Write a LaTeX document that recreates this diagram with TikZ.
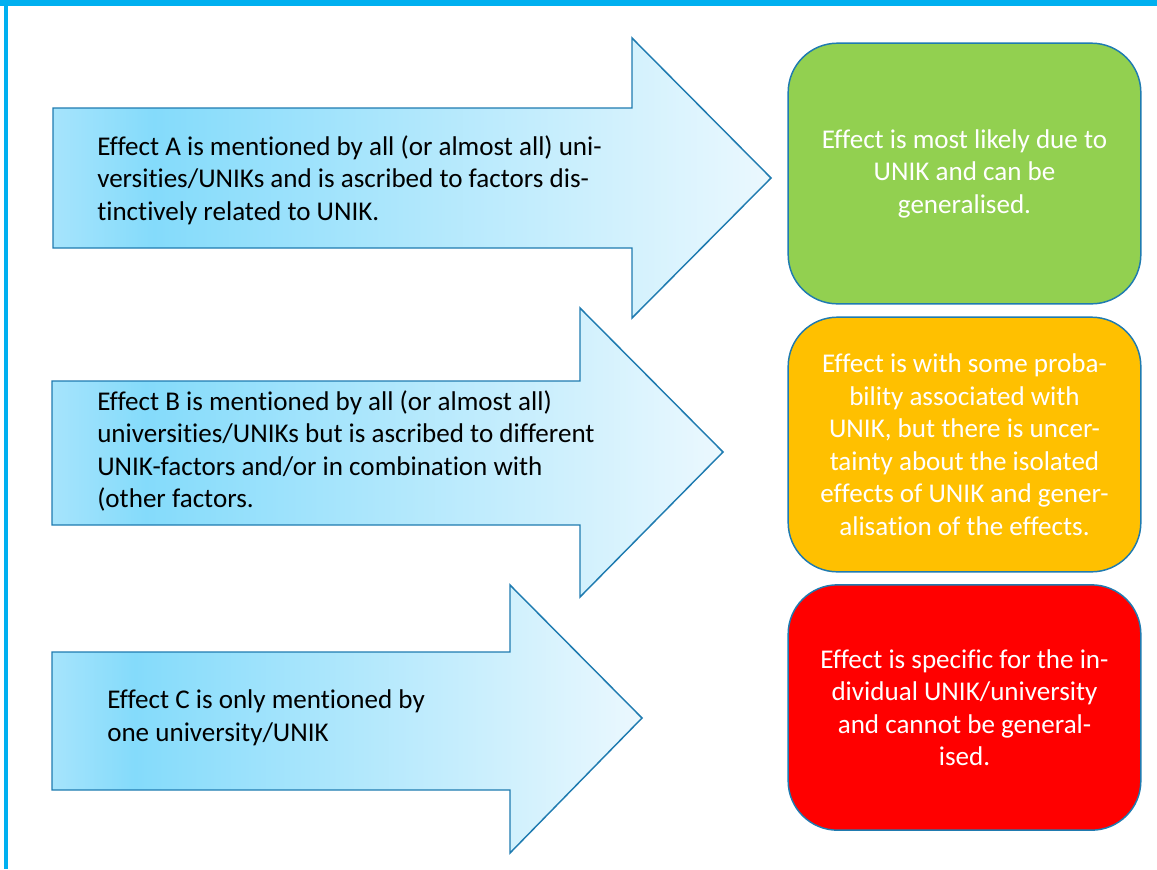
\documentclass[tikz,border=0pt]{standalone}
\usepackage{fontspec}
\setmainfont{Carlito}[Ligatures=NoCommon]
\definecolor{frameblue}{HTML}{00B0F0}
\definecolor{edgeblue}{HTML}{1F7BB0}
\definecolor{shaftedge}{HTML}{A6E4FC}
\definecolor{shaftdeep}{HTML}{84DBFB}
\definecolor{shaftpale}{HTML}{EBF8FE}
\definecolor{boxgreen}{HTML}{92D050}
\definecolor{boxorange}{HTML}{FFC000}
\definecolor{boxred}{HTML}{FF0000}
\pgfdeclarehorizontalshading{shaftshade}{100bp}{color(0bp)=(shaftedge); color(25bp)=(shaftedge); color(32bp)=(shaftdeep); color(75bp)=(shaftpale); color(100bp)=(shaftpale)}
\begin{document}
\begin{tikzpicture}[x=0.75pt,y=-0.75pt,
    bigarrow/.style={draw=edgeblue,line width=1.1pt,shading=shaftshade},
    arrowtext/.style={anchor=west,inner sep=0pt,align=left,font=\fontsize{20.3}{24.4}\selectfont},
    verdict/.style={draw=edgeblue,line width=1.1pt,rounded corners=37pt,minimum width=264.5pt,
        text=white,align=center,font=\fontsize{20.3}{24.4}\selectfont}]
    \useasboundingbox (0,0) rectangle (1157,869);
    % frame
    \fill[frameblue] (0,0) rectangle (1157,6);
    \fill[frameblue] (4,0) rectangle (8,869);
    % arrows
    \draw[bigarrow] (53,108) -- (632,108) -- (632,38) -- (771,178) -- (632,318) -- (632,248) -- (53,248) -- cycle;
    \draw[bigarrow] (52,381) -- (580,381) -- (580,308) -- (723,452) -- (580,597) -- (580,525) -- (52,525) -- cycle;
    \draw[bigarrow] (52,652) -- (510,652) -- (510,585) -- (642,718) -- (510,853) -- (510,790) -- (52,790) -- cycle;
    \node[arrowtext] (effectA) at (97,180) {Effect A is mentioned by all (or almost all) uni-\\versities/UNIKs and is ascribed to factors dis-\\tinctively related to UNIK.};
    \node[arrowtext] (effectB) at (97,451) {Effect B is mentioned by all (or almost all)\\universities/UNIKs but is ascribed to different\\UNIK-factors and/or in combination with\\(other factors.};
    \node[arrowtext] (effectC) at (107,718) {Effect C is only mentioned by\\one university/UNIK};
    % verdicts
    \node[verdict,fill=boxgreen,minimum height=195.5pt] (likely) at (964.5,173.5) {Effect is most likely due to\\UNIK and can be\\generalised.};
    \node[verdict,fill=boxorange,minimum height=191pt] (uncertain) at (964.5,444.5) {Effect is with some proba-\\bility associated with\\UNIK, but there is uncer-\\tainty about the isolated\\effects of UNIK and gener-\\alisation of the effects.};
    \node[verdict,fill=boxred,minimum height=184pt] (specific) at (964.5,707.5) {Effect is specific for the in-\\dividual UNIK/university\\and cannot be general-\\ised.};
\end{tikzpicture}
\end{document}
